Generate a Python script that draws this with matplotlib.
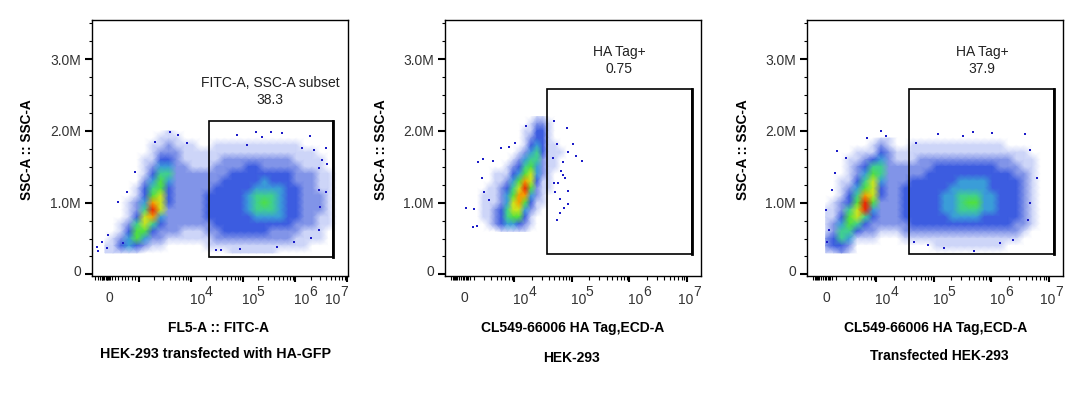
import matplotlib
matplotlib.use("Agg")
import matplotlib.pyplot as plt
from matplotlib.colors import LinearSegmentedColormap
from matplotlib.patches import Rectangle
from matplotlib.transforms import ScaledTranslation, blended_transform_factory

plt.rcParams['font.family'] = ['Liberation Sans', 'DejaVu Sans']

W, H = 1084, 401

# density, 0 (empty) to 9 (red), one string per SSC row, top row first
p1_x = [0, 240, 480, 710, 950, 1320, 1880, 2670, 3800, 5400, 7700, 1.09e4, 1.55e4, 2.21e4, 3.14e4,
        4.47e4, 6.36e4, 9.05e4, 1.29e5, 1.83e5, 2.61e5, 3.71e5, 5.28e5, 7.52e5, 1.07e6, 1.52e6,
        2.17e6, 3.08e6, 4.39e6, 6.25e6]
p1_y = [2.0, 1.9, 1.8, 1.7, 1.6, 1.5, 1.4, 1.3, 1.2, 1.1, 1.0, 0.9, 0.8, 0.7, 0.6, 0.5, 0.4, 0.3]
p1_density = [
    "000000001000000000000000000000",
    "000000011100000000000000000000",
    "000000112111001111111111100000",
    "000000122211111111111111111000",
    "000001133211111222222222111100",
    "000001244221112222332222211100",
    "000001355222222233333333222110",
    "000002464222222333334333222110",
    "000013563222223333344443322110",
    "000013673222233333455543322210",
    "000124873222233333456543322210",
    "000125972222233333455543322210",
    "000137842222233333344443322110",
    "001257532222223333333333222110",
    "001366322211122333333222211100",
    "012464221111112222222222111100",
    "113432110000011111111111110000",
    "111110000000000011111100000000",
]

p2_x = [2300, 2920, 3700, 4700, 5970, 7570, 9610, 1.22e4, 1.55e4, 1.96e4, 2.49e4, 3.16e4, 4.01e4,
        5.09e4, 6.46e4, 8.2e4, 1.04e5]
p2_y = [2.2, 2.1, 2.0, 1.9, 1.8, 1.7, 1.6, 1.5, 1.4, 1.3, 1.2, 1.1, 1.0, 0.9, 0.8, 0.7, 0.6]
p2_density = [
    "00000000001100000",
    "00000000012210000",
    "00000000113310000",
    "00000000123310000",
    "00000000134311000",
    "00000001245311100",
    "00000012455211000",
    "00000123564211000",
    "00011134674210000",
    "00011246873110000",
    "00112357962110000",
    "01112468842100000",
    "01112478631100000",
    "01123577421000000",
    "01123566310000000",
    "00123443210000000",
    "00001111100000000",
]

p3_x = [320, 1610, 2490, 3420, 4700, 6460, 8880, 1.22e4, 1.68e4, 2.3e4, 3.16e4, 4.35e4, 5.97e4, 8.2e4,
        1.13e5, 1.55e5, 2.13e5, 2.92e5, 4.01e5, 5.51e5, 7.57e5, 1.04e6, 1.43e6, 1.96e6, 2.7e6,
        3.71e6, 5.09e6, 7.0e6]
p3_y = [1.9, 1.8, 1.7, 1.6, 1.5, 1.4, 1.3, 1.2, 1.1, 1.0, 0.9, 0.8, 0.7, 0.6, 0.5, 0.4, 0.3]
p3_density = [
    "0000000110000000000000000000",
    "0000001210011111111111100000",
    "0000111321111111111111111100",
    "0001123421112222222222221110",
    "0001235522222233333333222110",
    "0001246522222333333333332210",
    "0011357422233333344443333210",
    "0012467322333333444443333210",
    "0013587322333334455544333210",
    "0123696222333334456644333210",
    "1125794222333334455544333210",
    "1136753222333333444433333210",
    "1246532222233333333333332210",
    "1255322111222222222222222100",
    "2354111000111111111111111000",
    "2332000000000011111111100000",
    "1121000000000000000000000000",
]

# single dots outside the dense part
p1_dots_x = [-240, -200, -90, 60, 90, 390, 530, 650, 890, 2050, 3970, 5650, 8400,
             7.6e4, 1.23e5, 1.83e5, 2.38e5, 3.54e5, 5.74e5, 1.97e6, 1.38e6, 2.35e6, 3.98e6, 3.34e6, 2.93e6,
             4.17e6, 3.98e6, 2.93e6, 3.1e6, 2.93e6, 2.05e6, 9.8e5, 4.6e5, 8.7e4, 3.9e4, 3.1e4]
p1_dots_y = [0.38, 0.33, 0.45, 0.37, 0.55, 1.01, 0.44, 1.15, 1.43, 1.85, 1.98, 1.94, 1.83,
             1.94, 1.80, 1.98, 1.91, 1.99, 1.97, 1.93, 1.76, 1.73, 1.76, 1.59, 1.48,
             1.54, 1.15, 1.18, 0.94, 0.62, 0.51, 0.45, 0.38, 0.35, 0.34, 0.34]
p2_dots_x = [645, 2040, 2400, 2920, 4340, 1900, 2300, 2800, 3000, 3700, 5970, 8200, 1.04e4, 1.6e4, 4.9e4, 8.2e4,
             1.04e5, 5.5e4, 8.5e4, 1.17e5, 1.5e5, 4.7e4, 7e4, 6.5e4, 7e4, 7.6e4, 5.7e4, 4.9e4, 5.1e4, 8.5e4,
             6.2e4, 8.5e4, 7.3e4, 6.2e4, 5.5e4]
p2_dots_y = [0.93, 0.91, 1.57, 1.61, 1.58, 0.66, 0.68, 1.34, 1.15, 1.04, 1.76, 1.78, 1.83, 2.07, 2.14, 2.04,
             1.82, 1.82, 1.71, 1.65, 1.58, 1.62, 1.57, 1.44, 1.39, 1.34, 1.27, 1.27, 1.15, 1.16,
             1.05, 0.98, 0.93, 0.86, 0.76]
p3_dots_x = [320, 600, 900, 1300, 1800, 2100, 3000, 7000, 1.2e4, 1.5e4,
             4.9e4, 1.17e5, 3.16e5, 4.7e5, 1.04e6, 3.86e6, 4.7e6, 6.2e6, 4.7e6, 4.34e6, 2.4e6, 4.9e5, 1.49e5,
             7.9e4, 4.5e4, 1.43e6]
p3_dots_y = [0.9, 0.45, 0.62, 1.18, 1.42, 1.72, 1.62, 1.9, 2.0, 1.93,
             1.83, 1.95, 1.93, 1.98, 1.97, 1.96, 1.73, 1.34, 0.99, 0.76, 0.48, 0.32, 0.37,
             0.41, 0.45, 0.44]

gate1_x = [2.21e4, 5.3e6]
gate1_y = [0.24, 2.14]
gate2_x = [3.77e4, 1.22e7]
gate2_y = [0.29, 2.58]
gate3_x = [3.77e4, 1.22e7]
gate3_y = [0.29, 2.58]

y_ticks = [0, 1, 2, 3]
y_labels = ["0", "1.0M", "2.0M", "3.0M"]
y_minor = [0.25, 0.5, 0.75, 1.25, 1.5, 1.75, 2.25, 2.5, 2.75, 3.25, 3.5]
decades = [1e4, 1e5, 1e6, 1e7]

density_cmap = LinearSegmentedColormap.from_list("flow", [
    "#ffffff", "#ccd4f8", "#7f92e8", "#3c5ce0", "#3a9ed8",
    "#40d090", "#50e040", "#c8e820", "#f8a000", "#f02000"])


def fx(px):
    return px / W


def fy(py):
    return 1 - py / H


def draw_panel(left, xd, yd, density, dots_x, dots_y, gate_x, gate_y, linthresh, linscale, xlim, major, minor,
               label_x, last_dx):
    ax = fig.add_axes([fx(left), fy(275.5), 256 / W, 255.5 / H])
    ax.set_xscale('symlog', linthresh=linthresh, linscale=linscale)
    grid = [[int(c) for c in row] for row in density]
    ax.pcolormesh(xd, yd, grid, cmap=density_cmap, vmin=0, vmax=9, shading='gouraud', rasterized=True)
    ax.scatter(dots_x, dots_y, s=1.1, marker='s', color="#1c1cc8", linewidths=0)
    ax.add_patch(Rectangle((gate_x[0], gate_y[0]), gate_x[1] - gate_x[0], gate_y[1] - gate_y[0],
                           fill=False, edgecolor='black', linewidth=1.2, zorder=3))
    ax.plot([gate_x[1], gate_x[1]], gate_y, color='black', linewidth=2, zorder=3)
    ax.set_xlim(xlim)
    ax.set_ylim(-0.015, 3.545)
    ax.set_xticks(major)
    ax.set_xticks(minor, minor=True)
    ax.set_xticklabels([])
    ax.set_yticks(y_ticks)
    ax.set_yticklabels(y_labels, fontsize=10, color="#333333")
    ax.set_yticks(y_minor, minor=True)
    ax.tick_params(axis='y', which='major', length=5, width=1.5, pad=3)
    ax.tick_params(axis='y', which='minor', length=2.2, width=0.8)
    ax.tick_params(axis='x', which='major', length=4.5, width=1.5)
    ax.tick_params(axis='x', which='minor', length=2.8, width=0.8)
    for side in ax.spines.values():
        side.set_linewidth(1)
    ax.get_yticklabels()[0].set_transform(ax.get_yticklabels()[0].get_transform()
                                          + ScaledTranslation(0, 4 / 100, fig.dpi_scale_trans))
    # exponent is as big as the base here, so base and power are separate texts
    trans = blended_transform_factory(ax.transData, ax.transAxes)
    ax.annotate("0", (0, 0), xycoords=trans, xytext=(label_x, -22), textcoords='offset pixels',
                ha='center', va='center', fontsize=10, color="#333333")
    for i, d in enumerate(decades):
        dx = last_dx if i == 3 else 0
        ax.annotate("10", (d, 0), xycoords=trans, xytext=(dx - 1, -25), textcoords='offset pixels',
                    ha='left', va='center', fontsize=10, color="#333333")
        ax.annotate(str(4 + i), (d, 0), xycoords=trans, xytext=(dx + 14, -16), textcoords='offset pixels',
                    ha='left', va='center', fontsize=10, color="#333333")
    return ax


fig = plt.figure(figsize=(W / 100, H / 100), dpi=100, facecolor='white')

minor1 = [-300, -200, -150, -100, -75, -50, -25, 25, 50, 75, 100, 125, 150, 200, 300, 400, 500, 600, 700, 800, 900,
          2000, 3000, 4000, 5000, 6000, 7000, 8000, 9000]
minor2 = [-1800, -1500, -1300, -1100, -900, -700, -400, -200, 200, 400, 700, 900, 1100, 1300,
          2000, 3000, 4000, 5000, 6000, 7000, 8000, 9000]
for d in [1e4, 1e5, 1e6]:
    minor1 += [d * m for m in [2, 3, 4, 5, 6, 7, 8, 9]]
    minor2 += [d * m for m in [2, 3, 4, 5, 6, 7, 8, 9]]

draw_panel(92, p1_x, p1_y, p1_density, p1_dots_x, p1_dots_y, gate1_x, gate1_y,
           1e3, 0.58, (-386, 1.045e7), [1e3] + decades, minor1, 4, -21)
draw_panel(445, p2_x, p2_y, p2_density, p2_dots_x, p2_dots_y, gate2_x, gate2_y,
           2e3, 0.19, (-2400, 1.74e7), decades, minor2, 3, -8)
draw_panel(807, p3_x, p3_y, p3_density, p3_dots_x, p3_dots_y, gate3_x, gate3_y,
           2e3, 0.19, (-2400, 1.74e7), decades, minor2, 3, -8)

for px in [27, 381, 743]:
    fig.text(fx(px), fy(150), "SSC-A :: SSC-A", rotation=90, ha='center', va='center',
             fontsize=9.8, fontweight='bold')

fig.text(fx(218), fy(328), "FL5-A :: FITC-A", ha='center', va='center', fontsize=10, fontweight='bold')
fig.text(fx(215), fy(354), "HEK-293 transfected with HA-GFP", ha='center', va='center', fontsize=10.3, fontweight='bold')
fig.text(fx(573), fy(328), "CL549-66006 HA Tag,ECD-A", ha='center', va='center', fontsize=10, fontweight='bold')
fig.text(fx(572), fy(358), "HEK-293", ha='center', va='center', fontsize=10, fontweight='bold')
fig.text(fx(936), fy(328), "CL549-66006 HA Tag,ECD-A", ha='center', va='center', fontsize=10, fontweight='bold')
fig.text(fx(939), fy(356), "Transfected HEK-293", ha='center', va='center', fontsize=10, fontweight='bold')

fig.text(fx(270), fy(83), "FITC-A, SSC-A subset", ha='center', va='center', fontsize=10, color="#222222")
fig.text(fx(270), fy(100), "38.3", ha='center', va='center', fontsize=10, color="#222222")
fig.text(fx(619), fy(52), "HA Tag+", ha='center', va='center', fontsize=10, color="#222222")
fig.text(fx(619), fy(69), "0.75", ha='center', va='center', fontsize=10, color="#222222")
fig.text(fx(982), fy(52), "HA Tag+", ha='center', va='center', fontsize=10, color="#222222")
fig.text(fx(982), fy(69), "37.9", ha='center', va='center', fontsize=10, color="#222222")

fig.savefig("out.png", dpi=100)
